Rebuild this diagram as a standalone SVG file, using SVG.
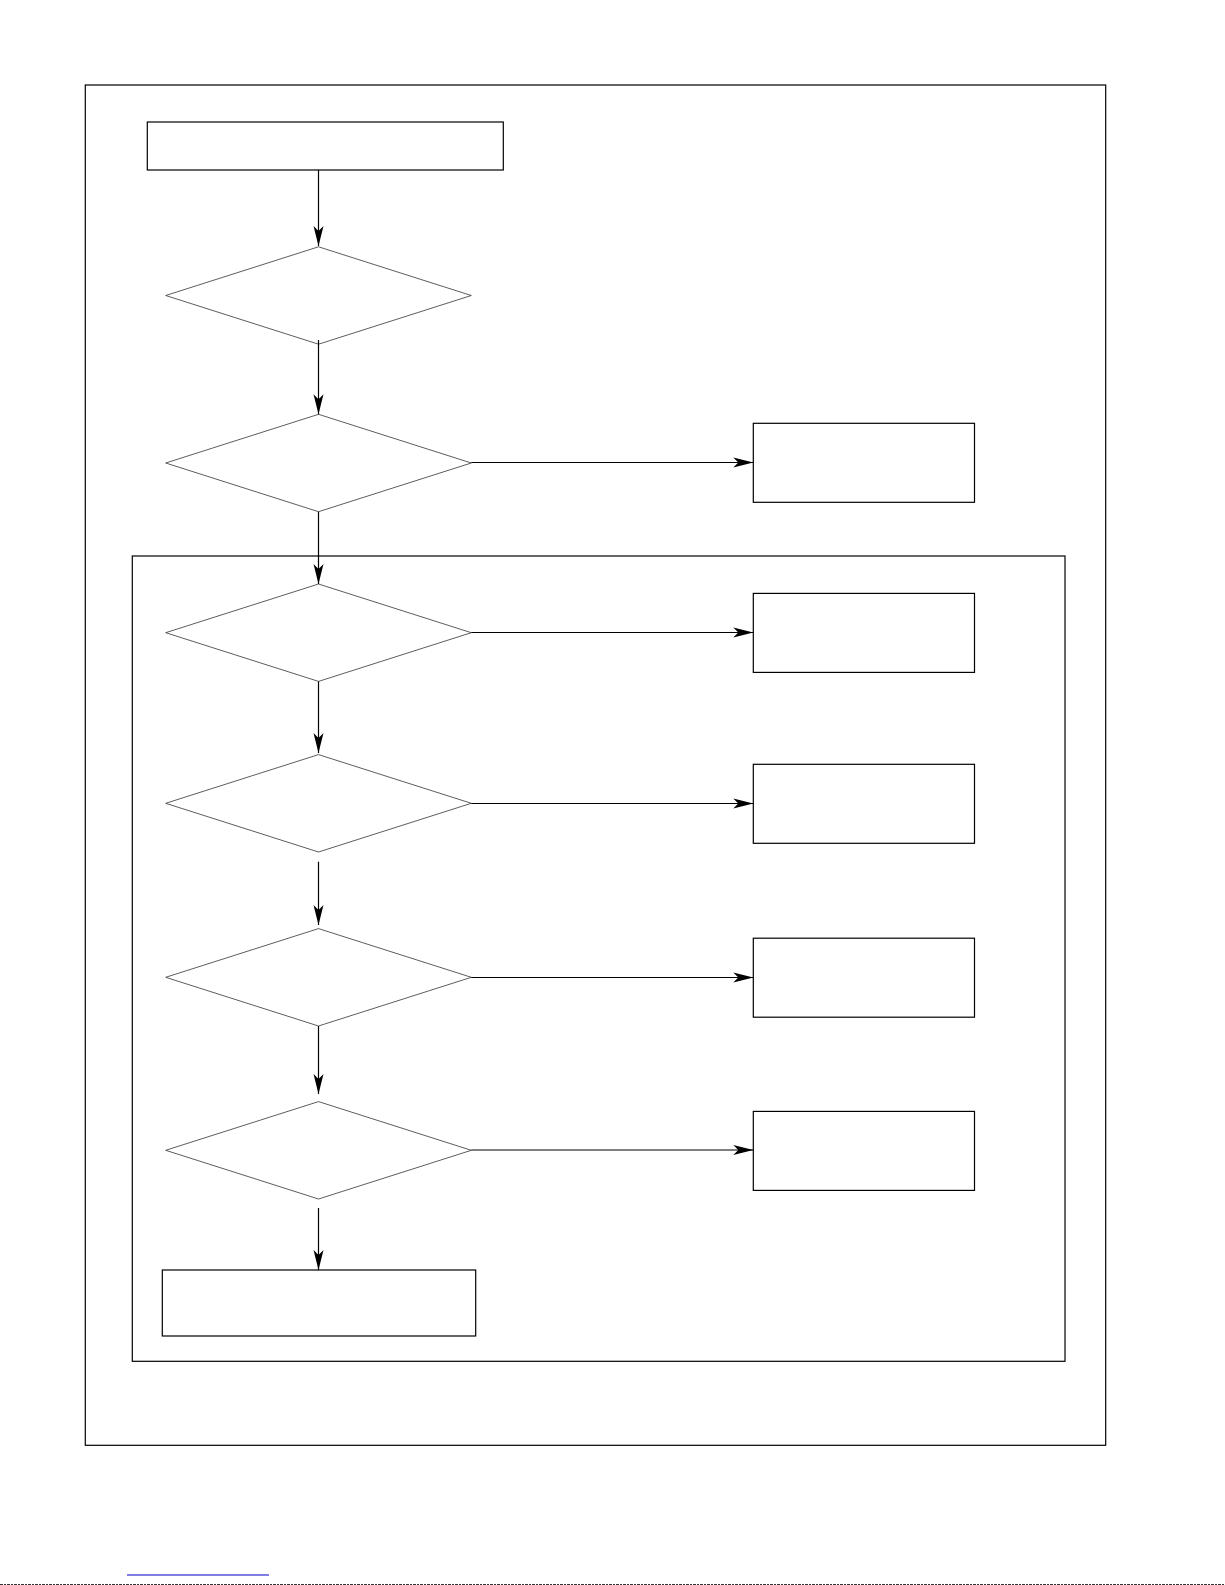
<svg xmlns="http://www.w3.org/2000/svg" width="1225" height="1585" viewBox="0 0 1225 1585">
<style>
.frame{fill:none;stroke:#000;stroke-width:1.2}
.box{fill:#fff;stroke:#000;stroke-width:1.2}
.dia{fill:#fff;stroke:#333;stroke-width:0.8}
.con{fill:none;stroke:#000;stroke-width:1.2}
</style>
<defs>
<marker id="ah" markerUnits="userSpaceOnUse" markerWidth="20" markerHeight="10" refX="20" refY="5" orient="auto" overflow="visible">
<path d="M0,0 L20,5 L0,10 L5,5 Z" fill="#000"/>
</marker>
</defs>
<rect width="1225" height="1585" fill="#fff"/>
<g id="outer-frame"><rect class="frame" x="85.3" y="85" width="1020.4" height="1360.3"/></g>
<g id="inner-frame"><rect class="frame" x="132.3" y="556" width="932.7" height="805.3"/></g>
<g id="start"><rect class="box" x="147.3" y="122" width="356" height="48"/></g>
<g id="d1"><polygon class="dia" points="165.7,295.5 318.5,246.8 471.3,295.5 318.5,344.2"/></g>
<g id="d2"><polygon class="dia" points="165.7,463 318.5,414.3 471.3,463 318.5,511.7"/></g>
<g id="d3"><polygon class="dia" points="165.7,632.7 318.5,584 471.3,632.7 318.5,681.4"/></g>
<g id="d4"><polygon class="dia" points="165.7,803.3 318.5,754.6 471.3,803.3 318.5,852"/></g>
<g id="d5"><polygon class="dia" points="165.7,977.3 318.5,928.6 471.3,977.3 318.5,1026"/></g>
<g id="d6"><polygon class="dia" points="165.7,1150.3 318.5,1101.6 471.3,1150.3 318.5,1199"/></g>
<g id="r1"><rect class="box" x="753.3" y="423.3" width="221.2" height="79"/></g>
<g id="r2"><rect class="box" x="753.3" y="593.4" width="221.2" height="79"/></g>
<g id="r3"><rect class="box" x="753.3" y="764.3" width="221.2" height="79"/></g>
<g id="r4"><rect class="box" x="753.3" y="938.2" width="221.2" height="79"/></g>
<g id="r5"><rect class="box" x="753.3" y="1111.4" width="221.2" height="79"/></g>
<g id="end"><rect class="box" x="162.3" y="1270" width="313.4" height="66"/></g>
<g id="connectors">
<line class="con" x1="318.5" y1="170" x2="318.5" y2="246" marker-end="url(#ah)"/>
<line class="con" x1="318.5" y1="340" x2="318.5" y2="414.3" marker-end="url(#ah)"/>
<line class="con" x1="318.5" y1="511.7" x2="318.5" y2="584" marker-end="url(#ah)"/>
<line class="con" x1="318.5" y1="681.4" x2="318.5" y2="753" marker-end="url(#ah)"/>
<line class="con" x1="318.5" y1="861.7" x2="318.5" y2="925" marker-end="url(#ah)"/>
<line class="con" x1="318.5" y1="1026" x2="318.5" y2="1094" marker-end="url(#ah)"/>
<line class="con" x1="318.5" y1="1208" x2="318.5" y2="1270" marker-end="url(#ah)"/>
<line class="con" x1="471.3" y1="462.5" x2="753.3" y2="462.5" marker-end="url(#ah)"/>
<line class="con" x1="471.3" y1="632.5" x2="753.3" y2="632.5" marker-end="url(#ah)"/>
<line class="con" x1="471.3" y1="803.5" x2="753.3" y2="803.5" marker-end="url(#ah)"/>
<line class="con" x1="471.3" y1="977.5" x2="753.3" y2="977.5" marker-end="url(#ah)"/>
<line class="con" x1="471.3" y1="1150" x2="753.3" y2="1150" marker-end="url(#ah)"/>
</g>
<line x1="127" y1="1575" x2="269" y2="1575" stroke="#0000c8" stroke-width="1.2"/>
<line x1="0" y1="1584.5" x2="1225" y2="1584.5" stroke="#333" stroke-width="1" stroke-dasharray="3 1 2 1"/>
</svg>
